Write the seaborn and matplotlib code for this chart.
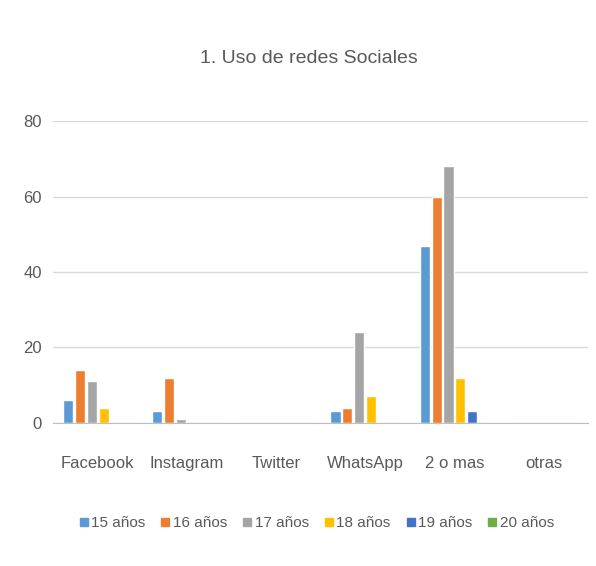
import numpy as np
import pandas as pd
import matplotlib
matplotlib.use("Agg")
import matplotlib.pyplot as plt
import seaborn as sns
from matplotlib.ticker import FixedLocator

# data
categories = ["Facebook", "Instagram", "Twitter", "WhatsApp", "2 o mas", "otras"]
series = ["15 años", "16 años", "17 años", "18 años", "19 años", "20 años"]
v15 = [6, 3, 0, 3, 47, 0]
v16 = [14, 12, 0, 4, 60, 0]
v17 = [11, 1, 0, 24, 68, 0]
v18 = [4, 0, 0, 7, 12, 0]
v19 = [0, 0, 0, 0, 3, 0]
v20 = [0, 0, 0, 0, 0, 0]
colors = ["#5B9BD5", "#ED7D31", "#A5A5A5", "#FFC000", "#4472C4", "#70AD47"]

rows = []
for name, vals in zip(series, [v15, v16, v17, v18, v19, v20]):
    for cat, v in zip(categories, vals):
        rows.append({"Red": cat, "Edad": name, "Valor": v})
df = pd.DataFrame(rows)

sns.set_style("white")
plt.rcParams['font.family'] = ['Liberation Sans', 'DejaVu Sans']
txt = "#595959"

fig = plt.figure(figsize=(5.96, 5.66), dpi=100)
ax = fig.add_axes([0.089, 0.253, 0.898, 0.533])

sns.barplot(data=df, x="Red", y="Valor", hue="Edad", order=categories,
            hue_order=series, palette=colors, width=0.8, gap=0.15,
            saturation=1, ax=ax, legend=False)

ax.set_ylim(0, 80)
ax.set_xlim(-0.5, len(categories) - 0.5)
ax.set_yticks([0, 20, 40, 60, 80])
ax.yaxis.grid(True, color="#D9D9D9", linewidth=1)
ax.set_axisbelow(True)
for s in ["top", "right", "left"]:
    ax.spines[s].set_visible(False)
ax.spines["bottom"].set_color("#BFBFBF")
ax.tick_params(axis="y", length=0, labelsize=12, labelcolor=txt, pad=8)
ax.tick_params(axis="x", which="major", length=0, labelsize=12, labelcolor=txt, pad=24)
ax.xaxis.set_minor_locator(FixedLocator(np.arange(-0.5, len(categories), 1.0)))
ax.tick_params(axis="x", which="minor", length=5, color="#BFBFBF")
ax.set_xlabel("")
ax.set_ylabel("")

fig.text(0.518, 0.897, "1. Uso de redes Sociales", ha="center", va="center",
         fontsize=14, color=txt)

handles = [plt.Line2D([], [], marker="s", linestyle="", markersize=6,
                      markerfacecolor=c, markeredgecolor=c) for c in colors]
fig.legend(handles, series, loc="center", bbox_to_anchor=(0.53, 0.076), ncol=6,
           frameon=False, fontsize=11, labelcolor=txt, handletextpad=0.1,
           columnspacing=0.9, handlelength=0.8)

fig.savefig("out.png", dpi=100)
